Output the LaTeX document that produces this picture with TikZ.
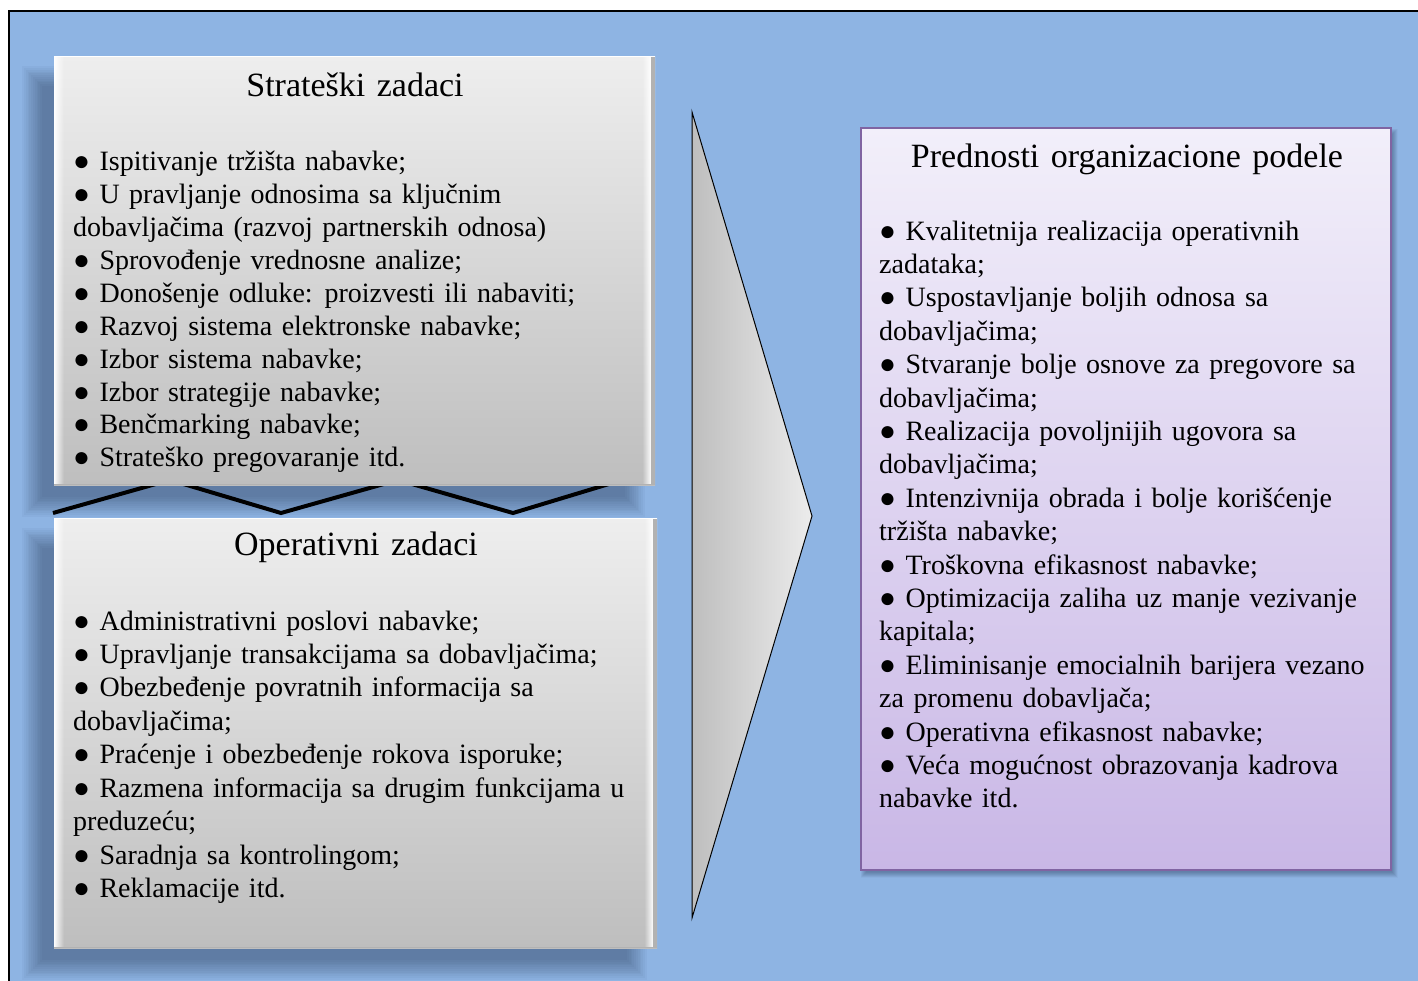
\documentclass[tikz,border=0pt]{standalone}
\usepackage{fontspec}
\setmainfont{Liberation Serif}[WordSpace=1.35]
\usetikzlibrary{fadings}

\definecolor{bgblue}{RGB}{142,180,227}
\definecolor{shadowcol}{RGB}{20,35,60}
\definecolor{boxtop}{RGB}{238,238,238}
\definecolor{boxbot}{RGB}{190,190,190}
\definecolor{edgegray}{RGB}{178,178,178}
\definecolor{triL}{RGB}{190,190,190}
\definecolor{triR}{RGB}{236,236,236}
\definecolor{lavtop}{RGB}{242,239,250}
\definecolor{lavbot}{RGB}{201,183,230}
\definecolor{lavedge}{RGB}{128,100,162}

\tikzfading[name=fadeR, left color=transparent!0, right color=transparent!100]
\tikzfading[name=fadeL, left color=transparent!100, right color=transparent!0]

% soft shadow: stacked translucent rectangles around (x1,y1)-(x2,y2)
\newcommand\softshadow[6]{%
  \foreach \k in {0,...,11}{
    \fill[shadowcol, fill opacity=#6]
      ({#1-\k*#5},{#2-\k*#5}) rectangle ({#3+\k*#5},{#4+\k*#5});
  }}

% bevelled edges of the grey boxes
\newcommand\bevel[1]{%
  \fill[white, path fading=fadeR] (#1.north west) rectangle ([xshift=10pt]#1.south west);
  \fill[white, path fading=fadeL] ([xshift=-13pt]#1.north east) rectangle ([xshift=-4pt]#1.south east);
  \fill[edgegray] ([xshift=-4pt]#1.north east) rectangle (#1.south east);
  \draw[white, line width=1.5pt] ([yshift=-0.75pt]#1.north west) -- ([yshift=-0.75pt]#1.north east);
  \draw[edgegray, line width=1.5pt] ([yshift=0.75pt]#1.south west) -- ([yshift=0.75pt]#1.south east);
}

\tikzset{
  greybox/.style={rectangle, inner sep=0pt, top color=boxtop, bottom color=boxbot},
  lavbox/.style={rectangle, inner sep=0pt, draw=lavedge, line width=1.5pt,
    top color=lavtop, bottom color=lavbot},
  txt/.style={font=\fontsize{28pt}{33pt}\selectfont, inner sep=0pt, anchor=base west},
  ttl/.style={font=\fontsize{34pt}{39pt}\selectfont, inner sep=0pt, anchor=base},
}

\begin{document}
\begin{tikzpicture}[x=1pt,y=-1pt]
\useasboundingbox (0,0) rectangle (1418,980);
\clip (0,0) rectangle (1418,980);
\fill[white] (0,0) rectangle (1418,980);
\draw[line width=2.5pt, fill=bgblue] (9,11) rectangle (1460,1020);

% shadows of the two grey boxes
\softshadow{42}{86}{625}{497}{1.8}{0.034}
\softshadow{42}{548}{627}{960}{1.8}{0.034}

% zig-zag joint between the two task boxes
\draw[line width=4pt, line join=miter] (53,513) -- (170,480) -- (281,513) -- (398,480) -- (513,513) -- (632,477);

% grey boxes
\node[greybox, minimum width=601pt, minimum height=429pt] (strat) at (354.5,270.5) {};
\bevel{strat}
\node[greybox, minimum width=603pt, minimum height=430pt] (oper) at (355.5,733) {};
\bevel{oper}

% big chevron
\draw[line width=1pt, line join=miter, left color=triL, right color=triR]
  (692,112) -- (812,516) -- (692,918) -- cycle;

% lavender box with its shadow
\softshadow{866}{134}{1392}{872}{0.5}{0.03}
\node[lavbox, minimum width=530pt, minimum height=742pt] (pred) at (1126,499) {};

% titles
\node[ttl] (stitle) at (355,96.7) {Strateški zadaci};
\node[ttl] (otitle) at (356,555) {Operativni zadaci};
\node[ttl] (ptitle) at (1127,167) {Prednosti organizacione podele};

% strategic tasks
\foreach \t [count=\i] in {
  {● Ispitivanje tržišta nabavke;},
  {● U pravljanje odnosima sa ključnim},
  {dobavljačima (razvoj partnerskih odnosa)},
  {● Sprovođenje vrednosne analize;},
  {● Donošenje odluke: proizvesti ili nabaviti;},
  {● Razvoj sistema elektronske nabavke;},
  {● Izbor sistema nabavke;},
  {● Izbor strategije nabavke;},
  {● Benčmarking nabavke;},
  {● Strateško pregovaranje itd.}}
  \node[txt] (s\i) at (73,{170.7+(\i-1)*32.9}) {\t};

% operational tasks
\foreach \t [count=\i] in {
  {● Administrativni poslovi nabavke;},
  {● Upravljanje transakcijama sa dobavljačima;},
  {● Obezbeđenje povratnih informacija sa},
  {dobavljačima;},
  {● Praćenje i obezbeđenje rokova isporuke;},
  {● Razmena informacija sa drugim funkcijama u},
  {preduzeću;},
  {● Saradnja sa kontrolingom;},
  {● Reklamacije itd.}}
  \node[txt] (o\i) at (73,{630+(\i-1)*33.45}) {\t};

% advantages
\foreach \t [count=\i] in {
  {● Kvalitetnija realizacija operativnih},
  {zadataka;},
  {● Uspostavljanje boljih odnosa sa},
  {dobavljačima;},
  {● Stvaranje bolje osnove za pregovore sa},
  {dobavljačima;},
  {● Realizacija povoljnijih ugovora sa},
  {dobavljačima;},
  {● Intenzivnija obrada i bolje korišćenje},
  {tržišta nabavke;},
  {● Troškovna efikasnost nabavke;},
  {● Optimizacija zaliha uz manje vezivanje},
  {kapitala;},
  {● Eliminisanje emocialnih barijera vezano},
  {za promenu dobavljača;},
  {● Operativna efikasnost nabavke;},
  {● Veća mogućnost obrazovanja kadrova},
  {nabavke itd.}}
  \node[txt] (p\i) at (879,{240+(\i-1)*33.4}) {\t};
\end{tikzpicture}
\end{document}
